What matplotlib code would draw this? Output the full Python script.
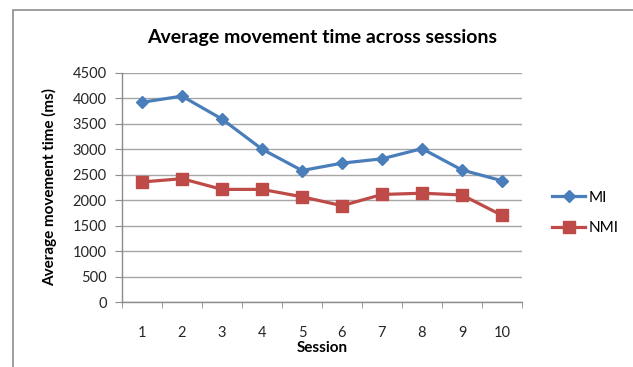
import matplotlib
matplotlib.use("Agg")
import matplotlib.pyplot as plt
from matplotlib.patches import Rectangle

sessions = ["1", "2", "3", "4", "5", "6", "7", "8", "9", "10"]
mi = [3920, 4040, 3590, 3000, 2580, 2725, 2810, 3010, 2590, 2380]
nmi = [2355, 2420, 2210, 2210, 2065, 1890, 2110, 2135, 2100, 1700]
yticks = [0, 500, 1000, 1500, 2000, 2500, 3000, 3500, 4000, 4500]

plt.rcParams['font.family'] = ['Lato', 'DejaVu Sans']

W, H = 633, 367
fig = plt.figure(figsize=(W / 100, H / 100), dpi=100)
fig.patch.set_facecolor('white')

# chart border
fig.patches.append(Rectangle((12.5 / W, -0.1), 1.2, (H - 10) / H + 0.1,
                             transform=fig.transFigure, fill=False,
                             edgecolor='#8c8c8c', linewidth=1.2, clip_on=False))

ax = fig.add_axes([122 / W, (H - 302) / H, 400 / W, (302 - 72.7) / H])
x = list(range(len(sessions)))
ax.plot(x, mi, color='#4A7EBB', linewidth=2.3, marker='D', markersize=6.5,
        label='MI')
ax.plot(x, nmi, color='#BE4B48', linewidth=2.3, marker='s', markersize=8,
        label='NMI')

ax.set_xlim(-0.5, len(sessions) - 0.5)
ax.set_ylim(0, 4500)
ax.set_yticks(yticks)
ax.set_yticklabels([str(v) for v in yticks], fontsize=10.5, color='#262626')
ax.set_xticks(x)
ax.set_xticklabels(sessions, fontsize=10.5, color='#262626')
ax.set_xticks([i - 0.5 for i in range(len(sessions) + 1)], minor=True)
ax.tick_params(axis='x', which='major', length=0, pad=17)
ax.tick_params(axis='x', which='minor', length=4, color='#8c8c8c', direction='out')
ax.tick_params(axis='y', length=5, color='#8c8c8c', direction='out', pad=6)
ax.grid(axis='y', color='#a6a6a6', linewidth=1.0)
ax.set_axisbelow(True)
for s in ['top', 'right']:
    ax.spines[s].set_visible(False)
for s in ['left', 'bottom']:
    ax.spines[s].set_color('#8c8c8c')
    ax.spines[s].set_linewidth(1.0)

ax.set_xlabel('Session', fontsize=11, fontweight='bold', labelpad=1)
ax.set_ylabel('Average movement time (ms)', fontsize=11, fontweight='bold',
              labelpad=11)
fig.text(322 / W, 1 - 38 / H, 'Average movement time across sessions',
         ha='center', va='center', fontsize=14, fontweight='bold')

leg = fig.legend(loc='center left', bbox_to_anchor=(538 / W, 1 - 213 / H),
                 frameon=False, fontsize=11, handlelength=2.2,
                 labelspacing=1.1, handletextpad=0.2)

fig.savefig('out.png', dpi=100)
